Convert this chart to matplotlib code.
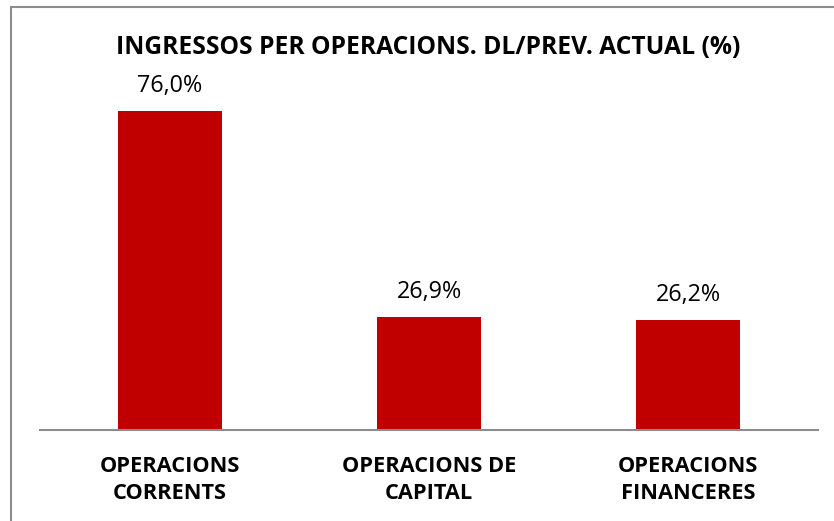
import matplotlib.pyplot as plt
from matplotlib.patches import Rectangle

categories = ['OPERACIONS\nCORRENTS', 'OPERACIONS DE\nCAPITAL', 'OPERACIONS\nFINANCERES']
values = [76.0, 26.9, 26.2]
labels = ['76,0%', '26,9%', '26,2%']

plt.rcParams['font.family'] = ['Open Sans', 'DejaVu Sans']

fig = plt.figure(figsize=(8.34, 5.21), dpi=100)
# chart border (right and bottom fall outside the picture)
fig.patches.append(Rectangle((11/834, -0.1), 1.0, 1 - 7/521 + 0.1, transform=fig.transFigure,
                             fill=False, edgecolor='#8c8c8c', linewidth=1.5))

ax = fig.add_axes([40/834, 1 - 430/521, (818-40)/834, (430-80)/521])
x = range(len(values))
ax.bar(x, values, width=0.4, color='#C00000')
for i, v in enumerate(values):
    ax.text(i, v + 3.0, labels[i], ha='center', va='bottom', fontsize=16.8)

ax.set_xlim(-0.5, 2.5)
ax.set_ylim(0, 350/4.2)
ax.set_xticks(list(x))
ax.set_xticklabels(categories, fontsize=15.7, fontweight='bold', linespacing=1.38)
ax.tick_params(axis='x', length=0, pad=19)
ax.set_yticks([])
for s in ['top', 'right', 'left']:
    ax.spines[s].set_visible(False)
ax.spines['bottom'].set_color('#8c8c8c')
ax.spines['bottom'].set_linewidth(1.5)

fig.text(428/834, 1 - 47/521, 'INGRESSOS PER OPERACIONS. DL/PREV. ACTUAL (%)',
         ha='center', va='center', fontsize=17.7, fontweight='bold')

fig.savefig('out.png', dpi=100)
